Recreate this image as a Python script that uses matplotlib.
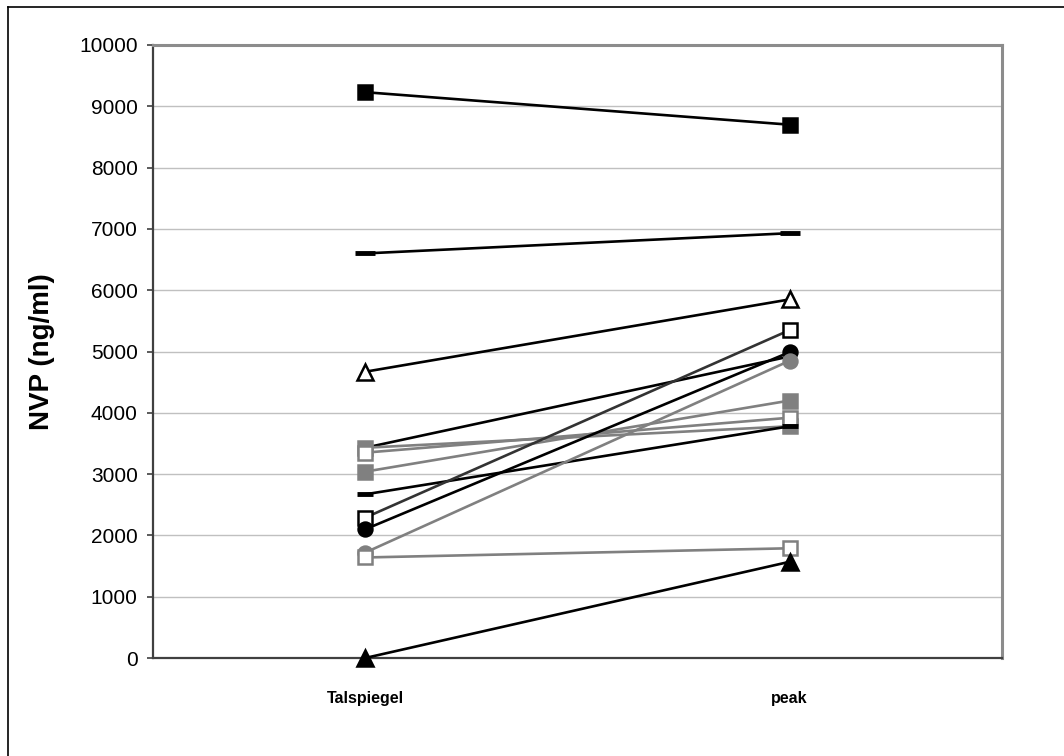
import matplotlib.pyplot as plt
from matplotlib.lines import Line2D

plt.rcParams['font.family'] = ['Liberation Sans', 'DejaVu Sans']

# NVP Spiegel: Talspiegel vs. peak pro Patient
categories = ['Talspiegel', 'peak']
yticks = list(range(0, 10001, 1000))

p01 = [9230, 8700]
p02 = [6600, 6930]
p03 = [4670, 5850]
p04 = [3430, 4920]
p05 = [3430, 3780]
p06 = [3350, 3920]
p07 = [3040, 4200]
p08 = [2670, 3780]
p09 = [2290, 5350]
p10 = [2100, 4990]
p11 = [1720, 4850]
p12 = [1640, 1790]
p13 = [0, 1570]

BLK = '#000000'
GRY = '#808080'
DGR = '#333333'

# (werte, linienfarbe, marker, fuellung, rand, groesse)
reihen = [
    (p04, BLK, 'o', 'white', 'none', 10),
    (p05, GRY, 's', GRY, GRY, 10),
    (p06, GRY, 's', 'white', GRY, 10),
    (p07, GRY, 's', GRY, GRY, 10),
    (p08, BLK, '_', BLK, BLK, 11),
    (p09, DGR, 's', 'white', BLK, 10),
    (p10, BLK, 'o', BLK, BLK, 10),
    (p11, GRY, 'o', GRY, GRY, 10),
    (p12, GRY, 's', 'white', GRY, 10),
    (p13, BLK, '^', BLK, BLK, 11),
    (p03, BLK, '^', 'white', BLK, 11),
    (p02, BLK, '_', BLK, BLK, 14),
    (p01, BLK, 's', BLK, BLK, 10),
]

fig = plt.figure(figsize=(10.64, 7.56), dpi=100)
ax = fig.add_axes([153 / 1064, 1 - 658 / 756, 849 / 1064, 613 / 756])

x = list(range(len(categories)))
for werte, farbe, m, fc, ec, gr in reihen:
    if m == '_':
        ax.plot(x, werte, color=farbe, lw=1.9, marker=m, ms=gr,
                mew=3.5, mec=ec, zorder=3, clip_on=False)
    else:
        ax.plot(x, werte, color=farbe, lw=1.9, marker=m, ms=gr,
                mfc=fc, mec=ec, mew=1.8, zorder=3, clip_on=False)

ax.set_xlim(-0.5, 1.5)
ax.set_ylim(0, 10000)
ax.set_yticks(yticks)
ax.set_xticks(x)
ax.set_xticklabels(categories, fontsize=11.5, fontweight='bold')
ax.tick_params(axis='x', length=0, pad=24)
ax.tick_params(axis='y', length=4, width=1.2, color='#404040',
               labelsize=15, pad=7)
ax.yaxis.grid(True, color='#c0c0c0', lw=1)
ax.set_axisbelow(True)

ax.set_ylabel('NVP (ng/ml)', fontsize=20, fontweight='bold')
ax.yaxis.set_label_coords(-0.115, 0.5)

for s in ['left', 'bottom']:
    ax.spines[s].set_color('#404040')
    ax.spines[s].set_linewidth(1.6)
for s in ['top', 'right']:
    ax.spines[s].set_color('#8c8c8c')
    ax.spines[s].set_linewidth(2.2)

# Rahmen des Diagrammbereichs (nur links und oben sichtbar)
fig.add_artist(Line2D([8 / 1064, 8 / 1064], [0, 1 - 7 / 756],
                      color='black', lw=1.2, transform=fig.transFigure))
fig.add_artist(Line2D([8 / 1064, 1], [1 - 7 / 756, 1 - 7 / 756],
                      color='black', lw=1.2, transform=fig.transFigure))

fig.savefig('out.png', dpi=100)
